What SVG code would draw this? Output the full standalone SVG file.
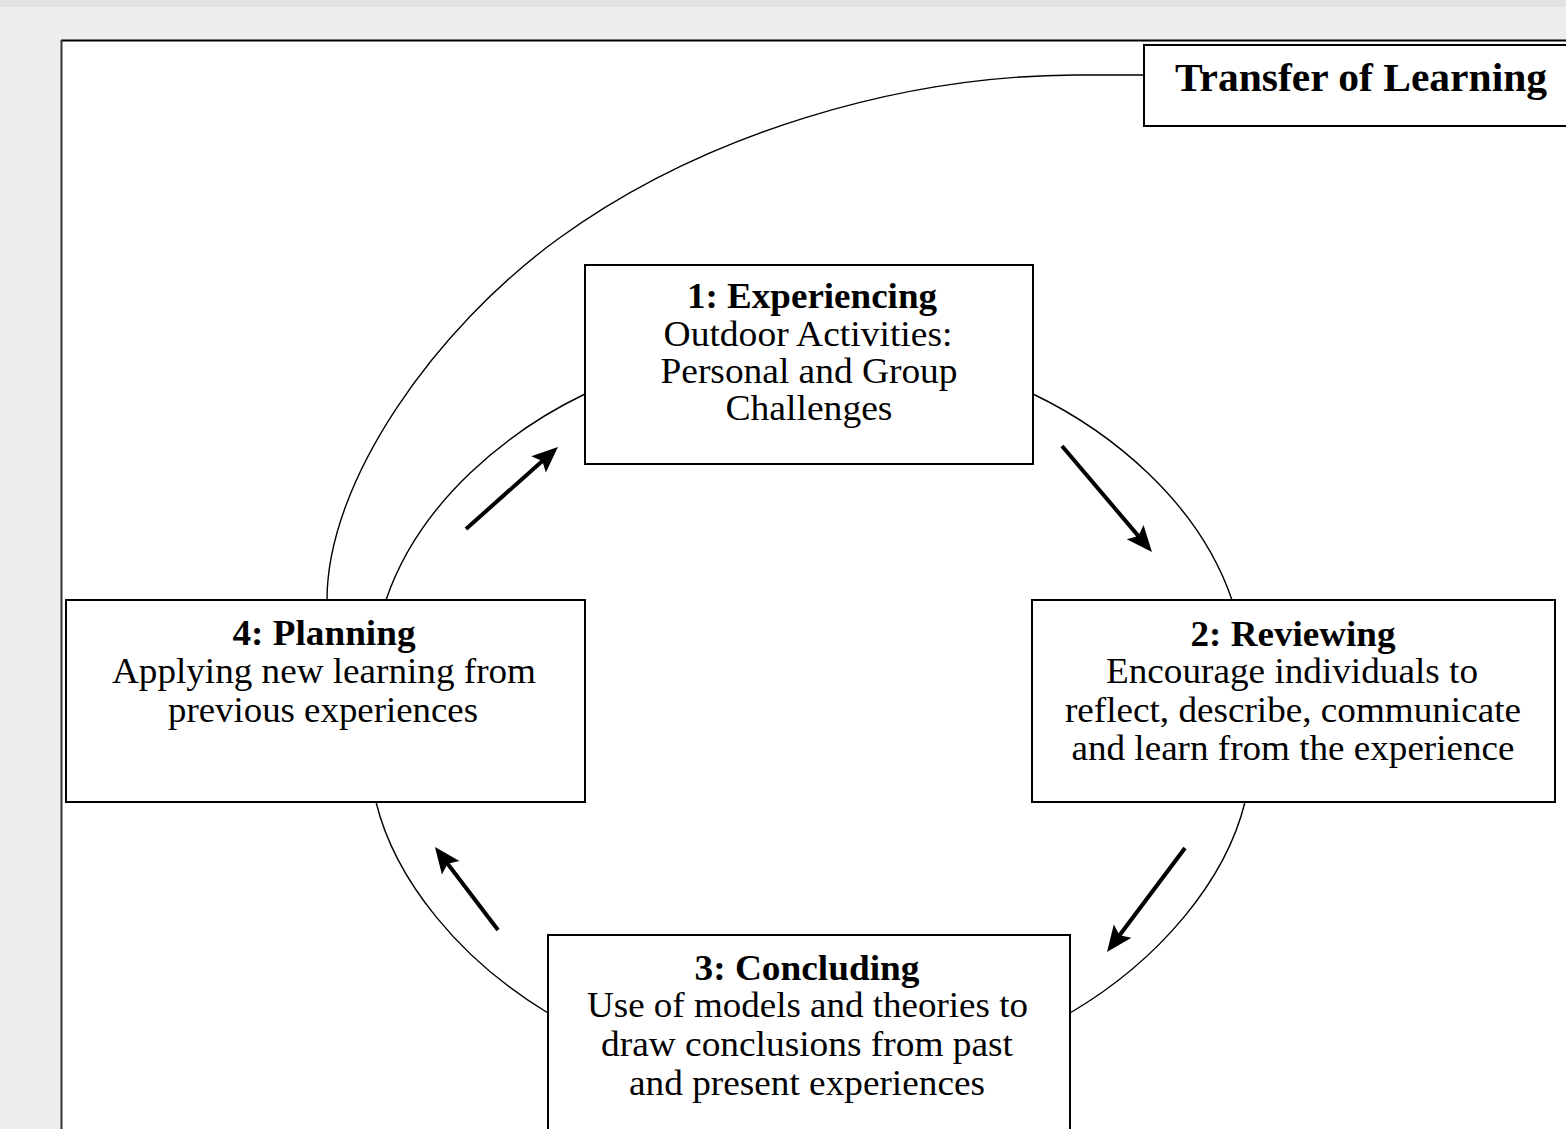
<svg xmlns="http://www.w3.org/2000/svg" width="1566" height="1129" viewBox="0 0 1566 1129">
<style>
.box{fill:#fff;stroke:#000;stroke-width:2}
.curve{fill:none;stroke:#000;stroke-width:1.4}
.arrow{fill:none;stroke:#000;stroke-width:4;marker-end:url(#ah)}
text{font-family:"Liberation Serif","Times New Roman",serif;fill:#000;text-anchor:middle;font-size:36px}
.t{font-weight:bold}
</style>
<defs>
<marker id="ah" markerUnits="userSpaceOnUse" markerWidth="30" markerHeight="24" refX="16" refY="11" orient="auto" overflow="visible">
<path d="M0,0 L26,11 L0,22 L5,11 z" fill="#000"/>
</marker>
</defs>
<rect x="0" y="0" width="1566" height="1129" fill="#ededed"/>
<rect x="0" y="0" width="1566" height="7" fill="#e1e1e1"/>
<rect x="61" y="40" width="1505" height="1089" fill="#fff"/>
<line x1="61" y1="40.5" x2="1566" y2="40.5" stroke="#000" stroke-width="2"/>
<line x1="61.5" y1="40" x2="61.5" y2="1129" stroke="#333" stroke-width="2"/>

<g id="connectors">
<path class="curve" d="M1144,75 H1075 C900,76 704,133 558,239 C436,328 327,480 327,600"/>
<path class="curve" d="M585,394 C510,430 420,500 386,600"/>
<path class="curve" d="M1033,394 C1108,430 1198,500 1232,600"/>
<path class="curve" d="M1245,802 C1226,880 1160,960 1070,1013"/>
<path class="curve" d="M376,802 C395,880 460,960 548,1013"/>
<line class="arrow" x1="466" y1="529" x2="550.5" y2="453.7"/>
<line class="arrow" x1="1062" y1="446" x2="1145.5" y2="544.4"/>
<line class="arrow" x1="1185" y1="848" x2="1113" y2="944"/>
<line class="arrow" x1="498" y1="930" x2="441" y2="855"/>
</g>

<g id="transfer">
<rect class="box" x="1144" y="45" width="440" height="81"/>
<text class="t" x="1361" y="91" font-size="40" style="font-size:40px" textLength="372" lengthAdjust="spacingAndGlyphs">Transfer of Learning</text>
</g>

<g id="node1">
<rect class="box" x="585" y="265" width="448" height="199"/>
<text class="t" x="812" y="308" textLength="250" lengthAdjust="spacingAndGlyphs">1: Experiencing</text>
<text x="808" y="346" textLength="289" lengthAdjust="spacingAndGlyphs">Outdoor Activities:</text>
<text x="809" y="383" textLength="297" lengthAdjust="spacingAndGlyphs">Personal and Group</text>
<text x="809" y="420" textLength="167" lengthAdjust="spacingAndGlyphs">Challenges</text>
</g>

<g id="node2">
<rect class="box" x="1032" y="600" width="523" height="202"/>
<text class="t" x="1293" y="646" textLength="205" lengthAdjust="spacingAndGlyphs">2: Reviewing</text>
<text x="1292" y="683" textLength="372" lengthAdjust="spacingAndGlyphs">Encourage individuals to</text>
<text x="1293" y="722" textLength="456" lengthAdjust="spacingAndGlyphs">reflect, describe, communicate</text>
<text x="1293" y="760" textLength="443" lengthAdjust="spacingAndGlyphs">and learn from the experience</text>
</g>

<g id="node3">
<rect class="box" x="548" y="935" width="522" height="220"/>
<text class="t" x="807" y="980" textLength="225" lengthAdjust="spacingAndGlyphs">3: Concluding</text>
<text x="807.5" y="1017" textLength="441" lengthAdjust="spacingAndGlyphs">Use of models and theories to</text>
<text x="807" y="1056" textLength="412" lengthAdjust="spacingAndGlyphs">draw conclusions from past</text>
<text x="807" y="1095" textLength="356" lengthAdjust="spacingAndGlyphs">and present experiences</text>
</g>

<g id="node4">
<rect class="box" x="66" y="600" width="519" height="202"/>
<text class="t" x="324" y="645" textLength="183" lengthAdjust="spacingAndGlyphs">4: Planning</text>
<text x="324" y="683" textLength="424" lengthAdjust="spacingAndGlyphs">Applying new learning from</text>
<text x="323" y="722" textLength="310" lengthAdjust="spacingAndGlyphs">previous experiences</text>
</g>
</svg>
